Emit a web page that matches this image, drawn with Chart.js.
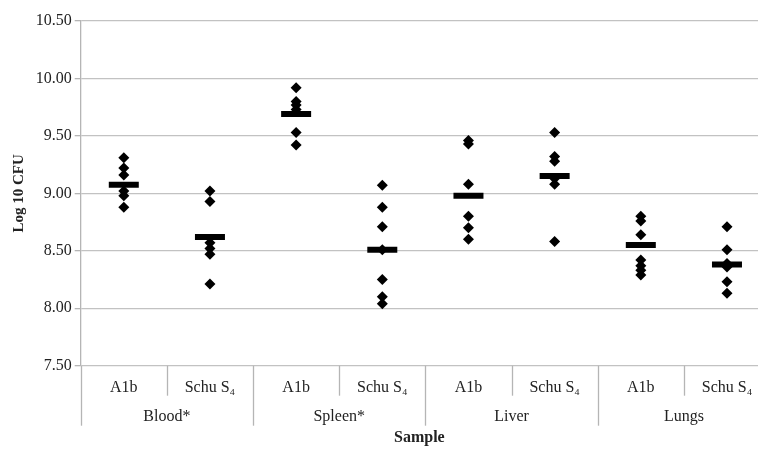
<!DOCTYPE html>
<html>
<head>
<meta charset="utf-8">
<script src="https://cdn.jsdelivr.net/npm/chart.js@4"></script>
<style>
  html, body { margin: 0; padding: 0; background: #fff; }
  #wrap { width: 758px; height: 450px; }
</style>
</head>
<body>
<div id="wrap"><canvas id="myChart" width="758" height="450"></canvas></div>
<script>
const groups = ['Blood*', 'Spleen*', 'Liver', 'Lungs'];
const strains = ['A1b', 'Schu S\u2084'];
const yTicks = [7.5, 8, 8.5, 9, 9.5, 10, 10.5];

// log10 CFU per animal
const bloodA1b = [9.31, 9.22, 9.16, 9.02, 8.98, 8.88];
const bloodSchu = [9.02, 8.93, 8.57, 8.52, 8.47, 8.21];
const spleenA1b = [9.92, 9.80, 9.77, 9.73, 9.53, 9.42];
const spleenSchu = [9.07, 8.88, 8.71, 8.51, 8.25, 8.10, 8.04];
const liverA1b = [9.46, 9.43, 9.08, 8.80, 8.70, 8.60];
const liverSchu = [9.53, 9.32, 9.28, 9.13, 9.08, 8.58];
const lungsA1b = [8.80, 8.76, 8.64, 8.42, 8.37, 8.33, 8.29];
const lungsSchu = [8.71, 8.51, 8.39, 8.36, 8.23, 8.13];
const means = [9.075, 8.62, 9.69, 8.51, 8.98, 9.15, 8.55, 8.38];

const columns = [bloodA1b, bloodSchu, spleenA1b, spleenSchu, liverA1b, liverSchu, lungsA1b, lungsSchu];

const serif = 'Liberation Serif';
const txt = '#222';

const pointSets = columns.map((vals, i) => ({
  data: vals.map((v) => ({ x: i, y: v })),
  pointStyle: 'rectRot',
  pointRadius: 5.5,
  pointBackgroundColor: '#000',
  pointBorderWidth: 0
}));

const meanSet = {
  data: means.map((m, i) => ({ x: i, y: m })),
  pointStyle: 'line',
  pointRadius: 15,
  pointBorderWidth: 6,
  pointBorderColor: '#000'
};

// category dividers + group names under the x axis
const groupAxis = {
  id: 'groupAxis',
  afterDraw(chart) {
    const ctx = chart.ctx;
    const x = chart.scales.x;
    const top = chart.chartArea.bottom;
    ctx.save();
    ctx.strokeStyle = '#b5b5b5';
    ctx.lineWidth = 1.3;
    for (let i = 0; i <= columns.length; i++) {
      const px = Math.round(x.getPixelForValue(i - 0.5)) + 0.5;
      const len = i % 2 === 0 ? 60 : 30;
      ctx.beginPath();
      ctx.moveTo(px, top);
      ctx.lineTo(px, top + len);
      ctx.stroke();
    }
    ctx.fillStyle = txt;
    ctx.font = '16px "' + serif + '"';
    ctx.textAlign = 'center';
    ctx.textBaseline = 'middle';
    groups.forEach((g, k) => {
      const cx = (x.getPixelForValue(2 * k) + x.getPixelForValue(2 * k + 1)) / 2;
      ctx.fillText(g, cx, top + 51);
    });
    ctx.restore();
  }
};

new Chart(document.getElementById('myChart'), {
  type: 'scatter',
  data: { datasets: [...pointSets, meanSet] },
  options: {
    responsive: false,
    animation: false,
    layout: { autoPadding: false, padding: { top: 21, right: 0, left: 0, bottom: 0 } },
    plugins: {
      legend: { display: false },
      tooltip: { enabled: false }
    },
    scales: {
      x: {
        type: 'linear',
        min: -0.5,
        max: 7.36,
        afterBuildTicks: (scale) => {
          scale.ticks = columns.map((c, i) => ({ value: i }));
        },
        afterFit: (scale) => {
          scale.height = 84.3;
          scale.paddingLeft = 0;
          scale.paddingRight = 0;
        },
        grid: { display: false },
        border: { display: false },
        ticks: {
          autoSkip: false,
          maxRotation: 0,
          padding: 4,
          color: txt,
          font: { family: serif, size: 16 },
          callback: (v) => strains[v % 2]
        },
        title: {
          display: true,
          text: 'Sample',
          color: txt,
          font: { family: serif, size: 16, weight: 'bold' },
          padding: { top: 0, bottom: 3 }
        }
      },
      y: {
        min: 7.5,
        max: 10.5,
        afterBuildTicks: (scale) => {
          scale.ticks = yTicks.map((v) => ({ value: v }));
        },
        afterFit: (scale) => { scale.width = 80.7; },
        grid: { color: '#c2c2c2', lineWidth: 1.3, tickLength: 6, tickColor: '#b5b5b5' },
        border: { color: '#b5b5b5', width: 1.3 },
        ticks: {
          padding: 3,
          color: txt,
          font: { family: serif, size: 16 },
          callback: (v) => v.toFixed(2)
        },
        title: {
          display: true,
          text: 'Log 10 CFU',
          color: txt,
          font: { family: serif, size: 15, weight: 'bold' },
          padding: { top: 10, bottom: 0 }
        }
      }
    }
  },
  plugins: [groupAxis]
});
</script>
</body>
</html>
